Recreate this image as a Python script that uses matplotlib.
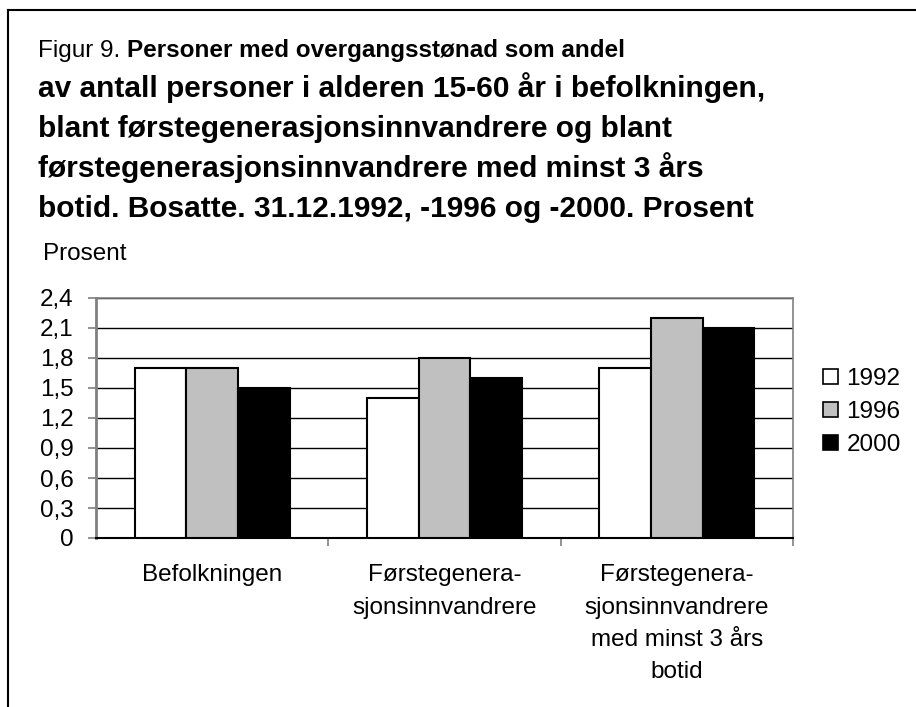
import matplotlib
matplotlib.use("Agg")
import matplotlib.pyplot as plt
import numpy as np
from matplotlib.patches import Patch
from matplotlib.lines import Line2D

plt.rcParams['font.family'] = ['Liberation Sans', 'DejaVu Sans']

categories = ["Befolkningen", "Førstegenera-\nsjonsinnvandrere",
              "Førstegenera-\nsjonsinnvandrere\nmed minst 3 års\nbotid"]
years = ["1992", "1996", "2000"]
v1992 = [1.7, 1.4, 1.7]
v1996 = [1.7, 1.8, 2.2]
v2000 = [1.5, 1.6, 2.1]
yticks = [0, 0.3, 0.6, 0.9, 1.2, 1.5, 1.8, 2.1, 2.4]
ytick_labels = ["0", "0,3", "0,6", "0,9", "1,2", "1,5", "1,8", "2,1", "2,4"]

title_prefix = "Figur 9. "
title_lines = [
    "Personer med overgangsstønad som andel",
    "av antall personer i alderen 15-60 år i befolkningen,",
    "blant førstegenerasjonsinnvandrere og blant",
    "førstegenerasjonsinnvandrere med minst 3 års",
    "botid. Bosatte. 31.12.1992, -1996 og -2000. Prosent",
]

W, H = 916, 707
FS = 17.5
fig = plt.figure(figsize=(W/100, H/100), dpi=100)
ax = fig.add_axes([96/W, 1-538/H, (793-96)/W, 240/H])

series = [v1992, v1996, v2000]
colors = ["white", "#c0c0c0", "black"]
x = np.arange(len(categories))
bw = 0.2225
for i, (vals, c) in enumerate(zip(series, colors)):
    ax.bar(x + (i-1)*bw, vals, bw, color=c, edgecolor="black", linewidth=1.5,
           label=years[i], zorder=3)

ax.set_xlim(-0.5, 2.5)
ax.set_ylim(0, 2.4)
ax.set_yticks(yticks)
ax.set_yticklabels(ytick_labels, fontsize=FS)
ax.yaxis.grid(True, color="black", linewidth=1.0, zorder=0)
ax.set_axisbelow(True)
ax.set_xticks([0.5, 1.5, 2.5], minor=False)
ax.set_xticklabels([])
ax.set_xticks([0, 1, 2], minor=True)
ax.set_xticklabels(categories, minor=True, fontsize=FS, linespacing=1.6, va="top")
ax.tick_params(axis="x", which="minor", length=0, pad=19)
ax.tick_params(axis="x", which="major", length=6, width=1.2, color="#808080", direction="out")
ax.tick_params(axis="y", length=6, width=1.2, color="#808080", pad=10)
for s in ["top", "right"]:
    ax.spines[s].set_color("#808080")
    ax.spines[s].set_linewidth(1.2)
ax.spines["left"].set_color("#808080")
ax.spines["left"].set_linewidth(2)
ax.spines["bottom"].set_color("black")
ax.spines["bottom"].set_linewidth(1.5)

handles = [Patch(facecolor=c, edgecolor="black", linewidth=1.2) for c in colors]
fig.legend(handles, years, loc="upper left", bbox_to_anchor=(823/W, 1-368/H),
           frameon=False, fontsize=FS, handlelength=0.6, handleheight=0.6,
           handletextpad=0.37, labelspacing=0.45, borderpad=0, borderaxespad=0)

fig.text(43/W, 1-260/H, "Prosent", fontsize=FS, va="baseline", ha="left")

# title
renderer = fig.canvas.get_renderer()
TFS = 21.5
fs1 = 17.5

ys = [57, 97, 137, 177, 217]
t0 = fig.text(38/W, 1-ys[0]/H, title_prefix, fontsize=fs1,
              va="baseline", ha="left")
bb = t0.get_window_extent(renderer)
fig.text(bb.x1/W, 1-ys[0]/H, title_lines[0], fontsize=fs1,
         fontweight="bold", va="baseline", ha="left")
for k in range(1, 5):
    fig.text(38/W, 1-ys[k]/H, title_lines[k], fontsize=TFS, fontweight="bold",
             va="baseline", ha="left")

# frame lines
fig.add_artist(Line2D([8/W, 8/W], [0, 1-10/H], color="black", linewidth=1.5))
fig.add_artist(Line2D([8/W, 1], [1-10/H, 1-10/H], color="black", linewidth=1.5))

fig.savefig("out.png", dpi=100)
